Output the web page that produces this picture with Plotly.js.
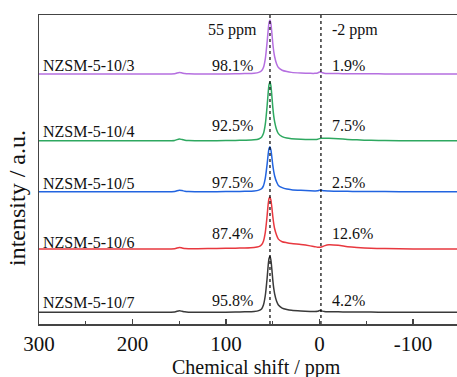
<!DOCTYPE html>
<html>
<head>
<meta charset="utf-8">
<script src="https://cdn.plot.ly/plotly-3.0.1.min.js"></script>
<style>html,body{margin:0;padding:0;background:#fff;}#chart{width:457px;height:377px;}</style>
</head>
<body>
<div id="chart"></div>
<script>
// Chemical shift grid (ppm)
const shift = [300, 250, 200, 170, 155, 150, 147, 144, 140, 130,
  110, 90, 80, 70, 65, 62, 60, 58, 56, 55,
  54, 53, 52, 51, 50, 49, 48, 46, 44, 40,
  35, 30, 20, 10, 5, 2, 0, -2, -5, -10,
  -20, -30, -40, -55, -70, -100, -130, -147];

// Normalized intensities (peak = 1)
const s3 = [0, 0, 0, 0, 0.005, 0.03, 0.02, 0.008, 0.003, 0,
  0, 0.004, 0.008, 0.015, 0.03, 0.06, 0.12, 0.28, 0.6, 0.8,
  0.95, 1, 0.93, 0.76, 0.57, 0.42, 0.32, 0.19, 0.12, 0.07,
  0.045, 0.03, 0.018, 0.012, 0.012, 0.02, 0.035, 0.03, 0.015, 0.01,
  0.008, 0.006, 0.005, 0.004, 0.002, 0, 0, 0];
const s4 = [0, 0, 0, 0, 0.005, 0.03, 0.02, 0.008, 0.003, 0,
  0, 0.004, 0.008, 0.015, 0.03, 0.06, 0.12, 0.28, 0.6, 0.8,
  0.95, 1, 0.93, 0.76, 0.57, 0.42, 0.32, 0.19, 0.12, 0.07,
  0.045, 0.035, 0.025, 0.02, 0.02, 0.025, 0.035, 0.04, 0.042, 0.04,
  0.032, 0.022, 0.014, 0.006, 0.002, 0, 0, 0];
const s5 = [0, 0, 0, 0, 0.005, 0.035, 0.025, 0.01, 0.004, 0,
  0, 0.005, 0.01, 0.018, 0.035, 0.065, 0.13, 0.3, 0.62, 0.82,
  0.96, 1, 0.93, 0.77, 0.59, 0.45, 0.35, 0.22, 0.14, 0.09,
  0.06, 0.045, 0.03, 0.02, 0.018, 0.02, 0.035, 0.03, 0.02, 0.015,
  0.01, 0.008, 0.006, 0.004, 0.002, 0, 0, 0];
const s6 = [0, 0, 0, 0, 0.005, 0.03, 0.02, 0.008, 0.005, 0.005,
  0.01, 0.015, 0.02, 0.03, 0.045, 0.08, 0.15, 0.32, 0.65, 0.85,
  0.97, 1, 0.94, 0.8, 0.63, 0.49, 0.39, 0.27, 0.19, 0.14,
  0.12, 0.105, 0.085, 0.06, 0.045, 0.035, 0.033, 0.04, 0.06, 0.08,
  0.07, 0.045, 0.03, 0.015, 0.008, 0.002, 0, 0];
const s7 = [0, 0, 0, 0, 0.005, 0.028, 0.018, 0.008, 0.003, 0,
  0, 0.004, 0.008, 0.015, 0.03, 0.06, 0.13, 0.3, 0.62, 0.82,
  0.96, 1, 0.93, 0.77, 0.58, 0.43, 0.33, 0.2, 0.13, 0.075,
  0.05, 0.035, 0.022, 0.015, 0.014, 0.018, 0.03, 0.025, 0.015, 0.01,
  0.008, 0.006, 0.005, 0.004, 0.002, 0, 0, 0];

const samples = ["NZSM-5-10/3", "NZSM-5-10/4", "NZSM-5-10/5", "NZSM-5-10/6", "NZSM-5-10/7"];
const spectra = [s3, s4, s5, s6, s7];
const peakHeight = [54, 59, 45, 52, 56];      // a.u.
const baseline = [250, 183.3, 132.3, 75, 11.7]; // stacking offset, a.u.
const pctMain = ["98.1%", "92.5%", "97.5%", "87.4%", "95.8%"];
const pctMinor = ["1.9%", "7.5%", "2.5%", "12.6%", "4.2%"];
const pctY = [259, 199, 142, 91, 24];
const labelY = [259, 193, 141, 82, 22];
const colors = ["#b56fe0", "#2ea860", "#2264e0", "#e8383f", "#3a3a3a"];
const markLines = [53, -1.5];
const markLabels = ["55 ppm", "-2 ppm"];
const xTicks = [300, 200, 100, 0, -100];

const font = "Liberation Serif";

const traces = spectra.map((s, i) => ({
  x: shift,
  y: s.map(v => baseline[i] + peakHeight[i] * v),
  type: "scatter",
  mode: "lines",
  line: {color: colors[i], width: 1.5, shape: "spline", smoothing: 0.7},
  hoverinfo: "skip",
  showlegend: false
}));

const annotations = [];
samples.forEach((n, i) => {
  annotations.push({x: 298, y: labelY[i], xref: "x", yref: "y", text: n, showarrow: false,
    xanchor: "left", yanchor: "middle", font: {family: font, size: 16, color: "#111"}});
  annotations.push({x: 92.6, y: pctY[i], xref: "x", yref: "y", text: pctMain[i], showarrow: false,
    xanchor: "center", yanchor: "middle", font: {family: font, size: 16, color: "#111"}});
  annotations.push({x: -11.5, y: pctY[i], xref: "x", yref: "y", text: pctMinor[i], showarrow: false,
    xanchor: "left", yanchor: "middle", font: {family: font, size: 16, color: "#111"}});
});
annotations.push({x: 93.5, y: 294, xref: "x", yref: "y", text: markLabels[0], showarrow: false,
  xanchor: "center", yanchor: "middle", font: {family: font, size: 16, color: "#111"}});
annotations.push({x: -11, y: 294, xref: "x", yref: "y", text: markLabels[1], showarrow: false,
  xanchor: "left", yanchor: "middle", font: {family: font, size: 16, color: "#111"}});
// axis titles (pixel positions converted to paper coords below)
annotations.push({x: 256, y: 367, xref: "paper", yref: "paper", text: "Chemical shift / ppm", showarrow: false,
  xanchor: "center", yanchor: "middle", font: {family: font, size: 20, color: "#111"}});
annotations.push({x: 17, y: 198, xref: "paper", yref: "paper", text: "intensity / a.u.", showarrow: false,
  textangle: -90, xanchor: "center", yanchor: "middle", font: {family: font, size: 24, color: "#111"}});

const L = 39, T = 15, W = 457 - 39, H = 324 - 15;
annotations.slice(-2).forEach(a => {
  a.x = (a.x - L) / W;
  a.y = 1 - (a.y - T) / H;
});

const shapes = markLines.map(v => ({
  type: "line", xref: "x", yref: "paper", x0: v, x1: v, y0: 0, y1: 1,
  line: {color: "#000", width: 1.2, dash: "dot"}, layer: "above"
}));

const layout = {
  width: 457, height: 377,
  margin: {l: 39, r: 0, t: 15, b: 53},
  paper_bgcolor: "#fff", plot_bgcolor: "#fff",
  font: {family: font, color: "#111"},
  xaxis: {
    range: [300, -147], showgrid: false, zeroline: false,
    showline: true, linecolor: "#444", linewidth: 1.5, mirror: true,
    ticks: "inside", ticklen: 5, tickwidth: 1.3, tickcolor: "#444",
    tickmode: "array", tickvals: xTicks, ticktext: xTicks.map(String),
    tickfont: {family: font, size: 21, color: "#111"},
    ticklabelstandoff: 0,
    minor: {tickmode: "array", tickvals: [250, 150, 50, -50], ticks: "inside", ticklen: 3, tickwidth: 1.2, tickcolor: "#444"}
  },
  yaxis: {
    range: [0, 309], showgrid: false, zeroline: false,
    showline: true, linecolor: "#444", linewidth: 1.5,
    ticks: "", showticklabels: false
  },
  shapes: shapes,
  annotations: annotations
};

Plotly.newPlot("chart", traces, layout, {staticPlot: true, displayModeBar: false});
</script>
</body>
</html>
